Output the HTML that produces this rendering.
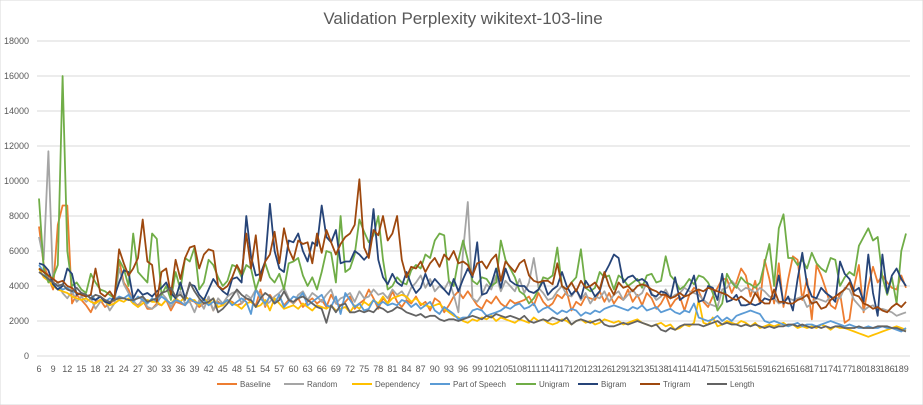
<!DOCTYPE html>
<html><head><meta charset="utf-8"><style>
body{margin:0;background:#fff;}
svg{display:block;font-family:"Liberation Sans",sans-serif;}
</style></head><body>
<svg id="chart" width="923" height="405" viewBox="0 0 923 405">
<rect x="0" y="0" width="923" height="405" fill="#fff" stroke="#d9d9d9"/>
<text x="463" y="24" text-anchor="middle" font-size="17" fill="#595959">Validation Perplexity wikitext-103-line</text>
<g id="grid"></g><g id="yt"></g><g id="xt"></g><g id="series"></g><g id="legend"></g>
</svg>
<script>
const categories=[];for(let c=6;c<=190;c++)categories.push(c);
const yTicks=[0,2000,4000,6000,8000,10000,12000,14000,16000,18000];
const seriesNames=["Baseline","Random","Dependency","Part of Speech","Unigram","Bigram","Trigram","Length"];
const seriesColors=["#ED7D31","#A5A5A5","#FFC000","#5B9BD5","#70AD47","#264478","#9E480E","#636363"];
const baseline=[7400,5200,4500,3800,7500,8600,8600,3000,3500,3200,2900,2500,3100,3200,2800,3000,3200,5500,4200,3800,3100,2900,3200,2700,2700,3000,2900,3200,2600,3100,3000,2900,3200,3100,2800,3000,3300,2600,3100,2900,3200,3100,2900,3000,3300,3100,2900,3800,2800,3500,3100,3400,2900,3200,3000,3300,2800,3100,3300,3000,3200,2800,3500,3000,2900,3100,3400,2700,3000,3200,3800,3300,2700,3300,3000,3700,3100,2800,3200,3000,3400,2900,3100,2600,3300,3100,2500,2900,3400,3700,3300,3700,3300,2900,2700,3200,3000,3400,3000,2800,3200,3000,3100,3200,3400,2900,3600,3100,2800,3000,3500,3300,3700,2600,3100,2900,3400,3300,3200,3700,3100,3600,3000,3400,3200,3800,3100,3500,2900,3600,3300,2700,3000,3500,2800,3200,3400,2600,3500,3900,3700,3100,2800,3400,3900,4400,4400,3600,4200,5000,4600,3400,4300,3000,5500,4400,3000,5300,2800,4400,5700,5500,3200,4400,2100,5200,4600,3800,2900,2700,3600,1900,2100,4000,5200,2500,4000,5100,4200,4600,4200,3900,3800,4600,3900];
const random=[6800,5500,11700,4000,4200,3600,3300,3700,3100,3400,3100,3300,2700,3100,3200,2600,3000,5000,4100,3600,3200,2800,3300,2800,2700,2900,3600,3300,2800,3200,3700,3000,3100,2500,3200,2700,3400,2600,3300,3000,3400,3600,3700,3000,3500,3300,3800,3500,2900,3100,3400,3600,3900,3300,3000,3500,3700,3200,3600,3400,3100,3500,3800,3000,3300,3400,3600,3100,3700,3300,3400,3800,3500,3600,3300,3800,3500,3700,3300,3900,4200,4600,3900,4400,3700,4000,3800,4300,3500,2500,6000,8800,3300,3100,3500,4100,3800,4600,3700,4300,4000,3700,4400,3600,4200,5600,3900,3600,3200,3300,3700,4000,3500,3400,3800,3200,3600,3000,3400,3300,3700,3100,3500,3700,3200,3500,3800,3400,3600,4200,3600,3200,3400,3800,3300,3500,3600,3900,3700,3600,3500,3200,3000,2900,2800,3800,3900,4300,4000,3700,3900,3800,3600,3900,3700,3400,3300,3000,3100,3300,3200,3300,3400,2800,3000,3300,3200,3100,3400,3300,3300,3900,3800,3200,2900,2600,2800,2900,2600,2700,2600,2500,2300,2400,2500];
const dependency=[5000,4500,4300,4000,3800,3700,3600,3400,3300,3200,3300,3100,3000,3200,3100,2900,3000,3200,3100,3300,3000,2800,3000,3200,3100,3100,2900,3200,3000,3300,3100,3400,3200,3200,2900,3300,3000,3300,2800,2900,3200,3000,2900,2700,3000,3100,2800,2900,3200,2600,3300,3000,2700,2800,2900,2700,3000,2800,2600,2900,2800,2700,2900,2600,2700,2800,2500,2900,2700,3100,2900,3200,3000,3400,3000,3300,3400,3500,3400,3100,3300,3000,2900,2800,2900,3000,2700,2500,2300,2200,2000,1900,2100,2000,2200,2100,2300,2000,2200,2100,2000,1900,2100,2000,1900,2200,2000,2100,1900,1800,1900,2100,2000,1800,2000,2100,1900,2000,1800,1900,2100,2000,1900,2000,1800,1900,2000,2100,1900,1800,1700,1800,1900,1700,1800,1500,1600,1800,1700,1900,3200,1900,1800,2200,1700,1800,2000,1900,1800,2000,1900,1700,1900,1600,1700,1800,1700,1800,1900,1700,1800,1600,1700,1600,1700,1600,1800,1700,1500,1700,1600,1600,1500,1400,1300,1200,1100,1200,1300,1400,1500,1600,1700,1600,1500];
const partOfSpeech=[5200,4800,4400,4200,4000,3800,3900,3700,3600,3500,3400,3500,3200,3400,3100,3300,3200,3400,3300,3500,3100,3400,3200,3000,3300,3100,3400,3200,3000,3200,3100,2900,3300,3100,3000,3200,2900,3100,3000,3000,3200,2900,3100,3300,3100,2400,3800,3300,3000,3400,3000,3500,2800,3100,3400,3300,3600,2900,3100,3300,3500,2900,2800,3400,2400,3600,3200,2800,3000,2600,2700,3200,2900,3100,2900,3000,2900,3200,3100,2800,3000,2700,2900,3100,2600,2400,2800,2600,2400,2100,2200,2200,2600,2700,2600,2300,2400,2500,2600,2800,2700,2900,3000,2700,2800,3000,2500,2700,2800,2600,2400,2600,2500,2700,2600,2300,2500,2400,2600,2500,2700,2800,2900,2800,2700,2600,2800,2700,2900,2600,2700,2800,2500,2600,2700,2500,2400,2600,2500,3000,2200,2100,2000,2100,2300,2000,2200,2000,2300,2400,2500,2600,2500,2400,2000,1900,2000,1900,1800,1700,1800,1900,1700,1800,1800,1700,1800,1900,2000,1900,1800,1700,1800,1700,1600,1600,1700,1600,1600,1700,1600,1600,1500,1400,1600];
const unigram=[9000,5000,4200,4500,5200,16000,6000,4000,4200,3800,3600,4700,4200,3800,3700,3500,3300,5500,5000,4000,7000,4800,4500,4200,7000,6700,3500,4000,3200,4800,3800,5600,5400,6200,3800,4200,5500,5200,4500,4000,4300,5200,5100,4500,5200,5000,3800,4600,5300,4500,4200,4700,3800,5300,5400,5600,4600,4000,4500,3800,4800,6000,5900,4200,8000,4800,5000,5800,7800,7100,6500,6900,8000,5500,3800,4000,4500,4200,4100,4900,5200,5000,5800,5600,6600,7000,6900,4300,4000,5500,6600,5500,4300,4100,4500,4400,4000,4200,6600,5500,5000,4500,3700,3500,3000,3300,3800,4500,4400,4600,6200,4000,3800,4200,4500,6100,3900,3700,3900,4800,4500,4600,3800,4600,4400,4000,4200,4400,3900,4600,4700,4200,4300,5700,4600,4300,3800,4000,4400,4100,4600,4500,4200,3600,2600,3000,4700,4200,3900,4500,4200,4100,3900,4200,5300,6400,4000,7300,8100,5600,5600,5200,5500,5000,5900,5300,5000,4800,5600,5500,4000,4500,4800,4600,6300,6800,7300,6600,6800,4500,3500,4500,3000,6000,7000];
const bigram=[5300,5200,4900,4100,3800,4000,5000,4700,3500,3600,3500,3300,3200,3400,3100,3000,3400,4200,4900,4800,3300,3800,3500,3600,3400,3700,3900,4200,3600,3300,4200,3300,4100,4000,3500,3200,3800,4400,4000,3700,3500,4400,4500,4200,8000,5700,4600,4700,5400,8700,6000,5000,4800,6600,6500,7000,6000,5400,6500,6300,8600,6800,6500,7200,5300,5400,5400,6000,5800,5500,5800,8400,5500,4500,4100,4700,4200,4000,4800,4100,3600,3900,4700,4000,4400,4100,3800,3500,4400,3700,4400,5000,4500,6500,3500,3600,4100,5000,3900,5000,4300,4100,4000,4000,3700,3600,3800,4300,3500,3800,4000,4800,4000,3500,3800,3300,4300,3900,3400,3700,4700,5200,5800,5600,4200,4500,4600,4300,4400,4200,3500,3400,3700,3600,3300,4500,3200,3400,3900,4600,3100,3200,4000,3900,3200,4700,3100,3200,3500,2900,2900,3000,2900,3000,3300,3200,3300,4600,3000,3400,2600,4400,5900,4100,3400,3300,3900,3600,3400,3100,5400,4700,4400,3700,3900,3100,5800,3600,2300,5800,3600,4600,5000,4400,4000];
const trigram=[5000,4800,4600,4400,4200,4300,4000,3900,3600,3500,3400,3500,5000,3600,3400,3700,3300,6100,5300,4600,5000,5600,7800,5400,5200,3100,4800,5000,3500,5500,4400,5600,6200,6300,5000,5800,6100,6000,4000,3800,4000,4500,5200,4700,7000,5000,6900,4300,5400,5800,7100,5300,7300,6100,5500,6600,6400,6500,5300,7000,5900,7200,6500,5800,6400,6800,7000,7500,10100,6200,5600,7200,6900,8000,6600,7000,8000,5500,4500,5100,5000,5400,4800,5300,5600,5100,5800,5500,6000,5300,5400,5200,4600,5300,5400,5000,5500,5800,4300,5400,5100,4800,5300,5500,4600,4300,4200,4300,4300,4100,5300,4000,3800,4200,3700,4300,3900,4000,4200,3800,4800,4000,3500,4200,3900,4000,3700,4000,4100,4000,3800,3700,3500,3500,3300,3400,3600,3400,3500,3700,3800,3700,3900,3800,3700,3600,3500,3300,3200,3400,3200,3000,3600,3200,3000,3000,3800,3100,3100,3000,3000,3200,3300,3500,3000,3100,2700,2800,3200,3400,3600,3800,4200,3500,3400,3000,2900,2700,2800,2600,2500,2800,3000,2800,3100];
const lengthSeries=[4800,4600,4400,4200,4000,4100,3800,3700,3900,3600,3500,3300,3500,3400,3200,3100,3200,3300,3300,3200,3200,3300,3400,3100,3200,3300,3600,3700,3900,3400,3500,3200,4200,3700,3300,3000,3100,3300,2500,2700,3000,3400,3800,3500,3300,3200,2800,3300,3600,3400,3000,3200,3700,3200,3100,3300,3400,3200,3000,2800,2700,1900,2900,2500,2900,3000,2500,2500,2600,2500,2600,2500,2800,2700,2500,2600,2800,2700,2500,2400,2300,2400,2200,2300,2300,2100,2000,2100,2100,2000,2100,2200,2300,2200,2100,2300,2200,2400,2300,2200,2300,2200,2100,2300,2000,1900,2000,2100,2000,2200,2100,2000,2200,1800,2000,2100,2000,1900,2000,2100,1800,1700,1700,1800,1900,1800,1900,2000,1900,1800,1700,1800,1500,1400,1600,1500,1700,1800,1800,1800,1800,1700,1800,1900,2000,1800,1900,1800,1800,1700,1800,1700,1800,1700,1600,1700,1600,1700,1700,1800,1800,1700,1800,1700,1600,1700,1600,1700,1600,1700,1700,1600,1600,1600,1700,1600,1600,1600,1700,1700,1700,1600,1600,1500,1400];
const allSeries=[baseline,random,dependency,partOfSpeech,unigram,bigram,trigram,lengthSeries];

const NS="http://www.w3.org/2000/svg";
const X0=39,X1=906,Y0=356,Y1=41,YMAX=18000;
function xScale(i){return X0+(X1-X0)*i/(categories.length-1);}
function yScale(v){return Y0-(Y0-Y1)*v/YMAX;}
function mk(tag,attrs,parent){const e=document.createElementNS(NS,tag);for(const k in attrs)e.setAttribute(k,attrs[k]);parent.appendChild(e);return e;}
const grid=document.getElementById('grid'),yt=document.getElementById('yt'),xt=document.getElementById('xt'),sg=document.getElementById('series'),lg=document.getElementById('legend');
yTicks.forEach(v=>{
  const l=mk('line',{x1:37,x2:910,y1:yScale(v),y2:yScale(v),stroke:'#d9d9d9','stroke-width':1},grid);
  
  
  const t=mk('text',{x:29,y:yScale(v)+3,'text-anchor':'end','font-size':9,fill:'#595959'},yt);
  t.textContent=v;
  
  
});
categories.forEach((c,i)=>{
  if((c-6)%3!==0)return;
  const t=mk('text',{x:xScale(i),y:372,'text-anchor':'middle','font-size':9,fill:'#595959'},xt);
  t.textContent=c;
  
  
});
allSeries.forEach((arr,s)=>{
  const pts=arr.map((v,i)=>xScale(i).toFixed(1)+','+yScale(v).toFixed(1)).join(' ');
  const p=mk('polyline',{points:pts,fill:'none',stroke:seriesColors[s],'stroke-width':1.8,'stroke-linejoin':'round'},sg);
  
  
});
const legX=[217,284,352,430,516,578,640,707];
seriesNames.forEach((n,s)=>{
  const g=mk('g',{},lg);
  
  
  mk('line',{x1:legX[s],x2:legX[s]+20,y1:384,y2:384,stroke:seriesColors[s],'stroke-width':2},g);
  const t=mk('text',{x:legX[s]+23,y:387,'font-size':8,fill:'#595959'},g);
  t.textContent=n;
});
</script>
</body></html>
